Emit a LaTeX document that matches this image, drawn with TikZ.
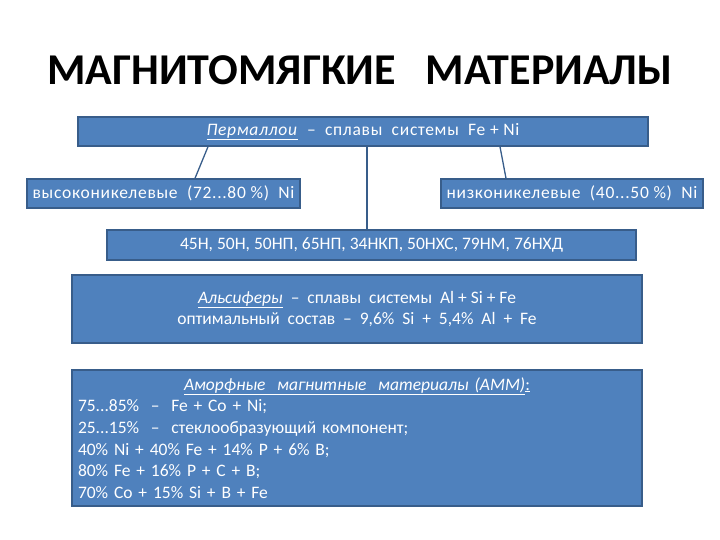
\documentclass[tikz,border=0pt]{standalone}
\usepackage{fontspec}
\setmainfont{Carlito}
\usepackage{xcolor}
\usetikzlibrary{arrows}
\definecolor{boxfill}{HTML}{4F81BD}
\definecolor{boxline}{HTML}{385D8A}

\begin{document}
\begin{tikzpicture}[x=1pt,y=-1pt,
  blockbox/.style={draw=boxline,line width=1.4pt,fill=boxfill,text=white,
    inner sep=0pt,font=\fontsize{17.5}{20}\selectfont},
  widebox/.style={blockbox,font=\fontsize{17.5}{20}\selectfont\addfontfeature{LetterSpace=4}},
  link/.style={draw=boxline,line width=1.3pt}]
\useasboundingbox (0,0) rectangle (720,540);
\node[font=\fontsize{44}{48}\selectfont\bfseries] (title) at (360,70)
  {МАГНИТОМЯГКИЕ\ \ \ МАТЕРИАЛЫ};
\node[widebox,minimum width=570pt,minimum height=29pt] (perm) at (363,131.5)
  {\underline{\textit{Пермаллои}}\ \ –\ \ сплавы\ \ системы\ \ Fe + Ni};
\node[widebox,minimum width=273pt,minimum height=29pt] (high) at (163.5,193.5)
  {высоконикелевые\ \ (72...80 \%)\ \ Ni};
\node[widebox,minimum width=262pt,minimum height=29pt] (low) at (572,193.5)
  {низконикелевые\ \ (40...50 \%)\ \ Ni};
\node[blockbox,minimum width=529pt,minimum height=30pt] (grades) at (371.5,245)
  {45Н, 50Н, 50НП, 65НП, 34НКП, 50НХС, 79НМ, 76НХД};
\node[blockbox,minimum width=570pt,minimum height=68pt,align=center,
  font=\fontsize{17.5}{21.5}\selectfont] (alsif) at (357,309)
  {\underline{\textit{Альсиферы}}\ \ –\ \ сплавы\ \ системы\ \ Al + Si + Fe\\
   оптимальный\ \ состав\ \ –\ \ 9,6\%\ \ Si\ \ +\ \ 5,4\%\ \ Al\ \ +\ \ Fe};
\node[blockbox,minimum width=570pt,minimum height=136pt,inner xsep=6pt,
  text width=558pt,align=left,font=\fontsize{17.5}{21.7}\selectfont] (amorph) at (357,438)
  {\makebox[558pt]{\underline{\textit{Аморфные\ \ магнитные\ \ материалы (АММ)}}\underline{:}}\\
   75...85\%\ \ –\ \ Fe + Co + Ni;\\
   25...15\%\ \ –\ \ стеклообразующий компонент;\\
   40\% Ni + 40\% Fe + 14\% P + 6\% B;\\
   80\% Fe + 16\% P + C + B;\\
   70\% Co + 15\% Si + B + Fe};
\draw[link] ([xshift=-155pt]perm.south) -- ([xshift=31.5pt]high.north);
\draw[link] ([xshift=137pt]perm.south) -- ([xshift=-66pt]low.north);
\draw[link,line width=2pt] ([xshift=4pt]perm.south) -- ([xshift=4pt]perm.south |- grades.north);
\end{tikzpicture}
\end{document}
